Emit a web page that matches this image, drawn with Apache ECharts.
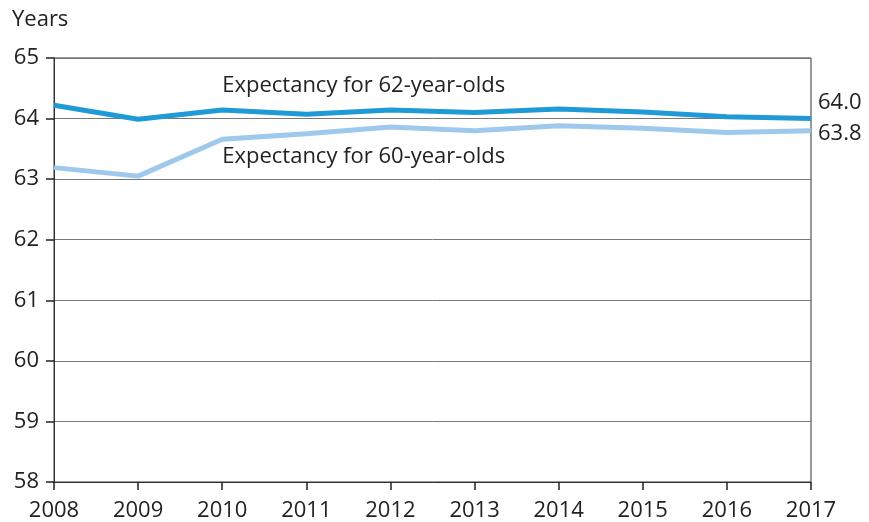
<!DOCTYPE html>
<html>
<head>
<meta charset="utf-8">
<script src="https://cdn.jsdelivr.net/npm/echarts@6/dist/echarts.min.js"></script>
<style>
  html, body { margin: 0; padding: 0; background: #fff; }
  #chart { width: 869px; height: 522px; }
</style>
</head>
<body>
<div id="chart"></div>
<script>
// Life expectancy (years) by survey year
const years = ['2008', '2009', '2010', '2011', '2012', '2013', '2014', '2015', '2016', '2017'];
const age62 = [64.22, 63.99, 64.14, 64.07, 64.14, 64.10, 64.16, 64.11, 64.03, 64.0];
const age60 = [63.19, 63.05, 63.66, 63.75, 63.86, 63.80, 63.88, 63.84, 63.77, 63.8];
const yTicks = [58, 59, 60, 61, 62, 63, 64, 65];
const seriesNames = ['Expectancy for 62-year-olds', 'Expectancy for 60-year-olds'];
const endValues = ['64.0', '63.8'];

const FONT = '"Open Sans", sans-serif';
const FS = 22;
const TEXT = '#222';

const chart = echarts.init(document.getElementById('chart'));

chart.setOption({
  animation: false,
  backgroundColor: '#fff',
  textStyle: { fontFamily: FONT },
  grid: {
    left: 54, right: 58, top: 58, bottom: 40,
    outerBoundsMode: 'none',
    containLabel: false,
    show: true, borderColor: '#333', borderWidth: 1
  },
  graphic: [{
    type: 'text', left: 12, top: 9,
    style: { text: 'Years', font: FS + 'px ' + FONT, fill: TEXT }
  }],
  xAxis: {
    type: 'category',
    data: years,
    boundaryGap: false,
    axisLine: { show: true, lineStyle: { color: '#333', width: 1 } },
    axisTick: { show: true, inside: false, length: 8, alignWithLabel: true, lineStyle: { color: '#222', width: 1.5 } },
    axisLabel: { color: TEXT, fontSize: FS, margin: 18, fontFamily: FONT },
    splitLine: { show: false }
  },
  yAxis: {
    type: 'value',
    min: yTicks[0],
    max: yTicks[yTicks.length - 1],
    interval: 1,
    axisLine: { show: true, lineStyle: { color: '#333', width: 1 } },
    axisTick: { show: true, inside: false, length: 8, lineStyle: { color: '#222', width: 1.5 } },
    axisLabel: { color: TEXT, fontSize: FS, margin: 15, fontFamily: FONT },
    splitLine: { show: true, lineStyle: { color: '#777', width: 1 } }
  },
  series: [
    {
      name: seriesNames[0],
      type: 'line',
      data: age62,
      symbol: 'none',
      lineStyle: { color: '#1f9ad6', width: 5 },
      z: 3,
      endLabel: {
        show: true,
        formatter: endValues[0],
        color: TEXT, fontSize: FS, fontFamily: FONT,
        distance: 7, offset: [0, -16]
      },
      markPoint: {
        symbol: 'circle', symbolSize: 0,
        data: [{ coord: ['2010', 64.54] }],
        label: {
          show: true, formatter: seriesNames[0], position: 'right',
          distance: 0, offset: [0, 0],
          color: TEXT, fontSize: FS, fontFamily: FONT
        }
      }
    },
    {
      name: seriesNames[1],
      type: 'line',
      data: age60,
      symbol: 'none',
      lineStyle: { color: '#9ec8ec', width: 5 },
      z: 2,
      endLabel: {
        show: true,
        formatter: endValues[1],
        color: TEXT, fontSize: FS, fontFamily: FONT,
        distance: 7, offset: [0, 3]
      },
      markPoint: {
        symbol: 'circle', symbolSize: 0,
        data: [{ coord: ['2010', 63.37] }],
        label: {
          show: true, formatter: seriesNames[1], position: 'right',
          distance: 0, offset: [0, 0],
          color: TEXT, fontSize: FS, fontFamily: FONT
        }
      }
    }
  ]
});
</script>
</body>
</html>
